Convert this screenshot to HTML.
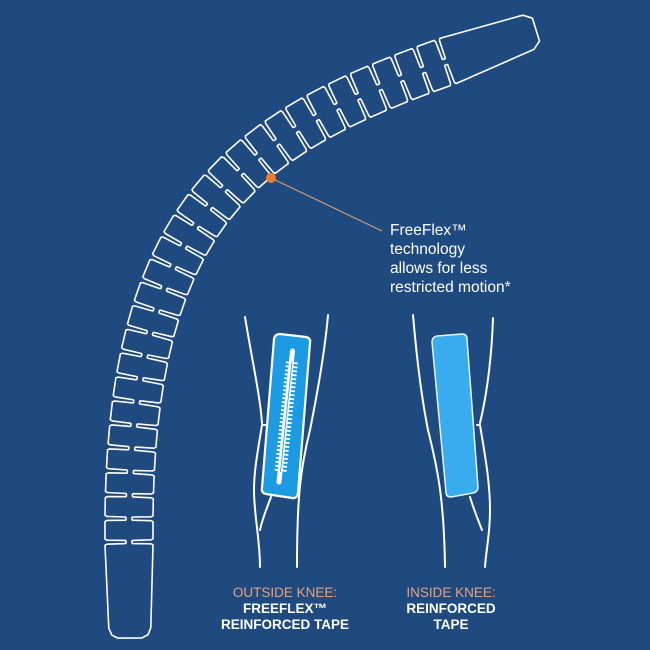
<!DOCTYPE html>
<html><head><meta charset="utf-8"><style>
html,body{margin:0;padding:0;background:#1f4a80;}
svg{display:block}
text{font-family:"Liberation Sans",sans-serif;}
</style></head><body>
<svg id="s" width="650" height="650" viewBox="0 0 650 650" xmlns="http://www.w3.org/2000/svg">
<rect width="650" height="650" fill="#1f4a80"/>
<path id="strip" fill="none" stroke="#ffffff" stroke-width="1.6" stroke-linejoin="round"/>
<line x1="271" y1="178" x2="382" y2="231" stroke="#d99a6c" stroke-width="1.2"/>
<circle cx="271" cy="178" r="5" fill="#f47b2a"/>
<text x="390" y="235" fill="#fff" font-size="15.5">FreeFlex™</text>
<text x="390" y="254" fill="#fff" font-size="15.5">technology</text>
<text x="390" y="273" fill="#fff" font-size="15.5">allows for less</text>
<text x="390" y="292" fill="#fff" font-size="15.5">restricted motion*</text>

<g fill="none" stroke="#fff" stroke-width="2" stroke-linecap="round">
<path d="M245 317 C252 360 260 395 262 423 M262 425 L266 425 M262 425 C258 450 254 470 254 490 C254 515 260 540 260 567"/>
<path d="M328 315 C325 350 318 390 310 430 C300 470 297 500 297 567"/>
<path d="M271 497 C266 510 262 520 260 530"/>
<path d="M413 315 C416 350 420 390 428 430 C438 470 444 500 445 567"/>
<path d="M493 318 C492 350 488 390 480 423 M480 425 L477 425 M480 425 C484 450 490 480 490 510 C490 535 486 550 485 567"/>
<path d="M470 497 C474 510 478 520 482 530"/>
</g>
<path d="M280 334 L306 337 Q311 338 310 343 L298 493 Q297 499 292 498 L266 494 Q261 493 262 488 L274 339 Q275 334 280 334 Z" fill="#1c9be2" stroke="#fff" stroke-width="2.2"/>
<line x1="292.5" y1="351" x2="279" y2="482" stroke="#fff" stroke-width="5" stroke-linecap="round"/>
<line x1="292" y1="362" x2="280.5" y2="472" stroke="#fff" stroke-width="12" stroke-dasharray="1.8 2.2"/>
<line x1="292" y1="362" x2="280.5" y2="472" stroke="#1c9be2" stroke-width="0.8"/>
<path d="M437 336 L462 334 Q467 334 467 339 L478 487 Q478 492 473 493 L451 497 Q446 497 446 492 L432 342 Q432 337 437 336 Z" fill="#38acef" stroke="#e6f4ff" stroke-width="1.5"/>

<text x="285" y="597" fill="#e6a27d" font-size="13.5" text-anchor="middle">OUTSIDE KNEE:</text>
<text x="285" y="613" fill="#fff" font-size="13.5" font-weight="bold" text-anchor="middle">FREEFLEX™</text>
<text x="285" y="629" fill="#fff" font-size="13.5" font-weight="bold" text-anchor="middle">REINFORCED TAPE</text>
<text x="451" y="597" fill="#e6a27d" font-size="13.5" text-anchor="middle">INSIDE KNEE:</text>
<text x="451" y="613" fill="#fff" font-size="13.5" font-weight="bold" text-anchor="middle">REINFORCED</text>
<text x="451" y="629" fill="#fff" font-size="13.5" font-weight="bold" text-anchor="middle">TAPE</text>
</svg>
<script>
(function(){
var P=[[129,542],[126,215],[240,135],[445,62]];
function bz(t){var u=1-t;
 var x=u*u*u*P[0][0]+3*u*u*t*P[1][0]+3*u*t*t*P[2][0]+t*t*t*P[3][0];
 var y=u*u*u*P[0][1]+3*u*u*t*P[1][1]+3*u*t*t*P[2][1]+t*t*t*P[3][1];
 var dx=3*u*u*(P[1][0]-P[0][0])+6*u*t*(P[2][0]-P[1][0])+3*t*t*(P[3][0]-P[2][0]);
 var dy=3*u*u*(P[1][1]-P[0][1])+6*u*t*(P[2][1]-P[1][1])+3*t*t*(P[3][1]-P[2][1]);
 var l=Math.hypot(dx,dy);return [x,y,dx/l,dy/l];}
var N=2000,S=[0],prev=bz(0);
for(var i=1;i<=N;i++){var c=bz(i/N);S.push(S[i-1]+Math.hypot(c[0]-prev[0],c[1]-prev[1]));prev=c;}
var L=S[N];
function pos(s){
 if(s<=0){var b=bz(0);return [b[0]+s*b[2],b[1]+s*b[3],b[2],b[3]];}
 if(s>=L){var e=bz(1);return [e[0]+(s-L)*e[2],e[1]+(s-L)*e[3],e[2],e[3]];}
 var lo=0,hi=N;while(hi-lo>1){var m=(lo+hi)>>1;if(S[m]<s)lo=m;else hi=m;}
 var f=(s-S[lo])/(S[hi]-S[lo]);return bz((lo+f)/N);}
function off(s,v){var p=pos(s);return [p[0]-v*p[3],p[1]+v*p[2]];}
var w=24,n=Math.round(L/23.5),pit=L/n,pts=[];
pts.push(off(-86,w-3));
for(var k=0;k<=n;k++){var b=k*pit;pts.push(off(b-3,w),off(b-2,w-2),off(b-1.6,3.5),off(b-1,3),off(b+1,3),off(b+1.6,3.5),off(b+2,w-2),off(b+3,w));}
pts.push(off(L+88,w-6),off(L+96,w-12),off(L+97,-(w-12)),off(L+89,-(w-6)));
for(var k=n;k>=0;k--){var b=k*pit;pts.push(off(b+3,-w),off(b+2,-(w-2)),off(b+1.6,-3.5),off(b+1,-3),off(b-1,-3),off(b-1.6,-3.5),off(b-2,-(w-2)),off(b-3,-w));}
pts.push(off(-86,-(w-3)),off(-93,-(w-6)),off(-96,-(w-12)),off(-96,w-12),off(-93,w-6));
var d="M"+pts.map(function(p){return p[0].toFixed(1)+" "+p[1].toFixed(1);}).join(" L")+" Z";
document.getElementById("strip").setAttribute("d",d);
})();
</script>
</body></html>
